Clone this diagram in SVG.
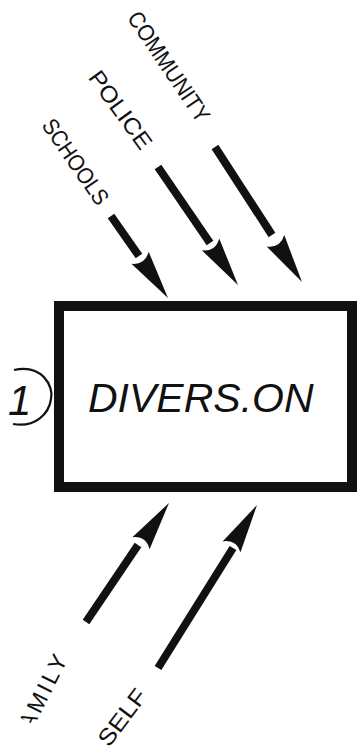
<svg xmlns="http://www.w3.org/2000/svg" xmlns:xlink="http://www.w3.org/1999/xlink" width="358" height="754" viewBox="0 0 358 754">
  <style>
    .lbl { font-family: "Liberation Sans", Arial, sans-serif; font-size: 23px; fill: #111; }
    .shaft { stroke: #111; stroke-width: 8; stroke-linecap: butt; fill: none; }
    .head { fill: #111; }
    .box { fill: #fff; stroke: #111; stroke-width: 10; }
    .title { font-family: "Liberation Sans", Arial, sans-serif; font-style: italic; font-size: 41px; fill: #111; }
  </style>
  <defs>
    <path id="head" d="M0,0 L-49,-10.5 Q-40,0 -49,10.5 Z"/>
    <clipPath id="famclip" clipPathUnits="userSpaceOnUse">
      <rect x="23" y="-40" width="200" height="80"/>
    </clipPath>
  </defs>
  <rect x="0" y="0" width="358" height="754" fill="#fff"/>

  <g id="node-diversion">
    <rect class="box" x="59" y="306" width="293" height="181"/>
    <text class="title" x="88" y="412">DIVERS.ON</text>
  </g>

  <g id="node-number">
    <text x="8" y="415" font-family="Liberation Sans, Arial, sans-serif" font-style="italic" font-size="42" fill="#111">1</text>
    <path d="M14,370 C42,364 54,386 51,399 C49,414 35,428 13,424" fill="none" stroke="#111" stroke-width="2.2"/>
  </g>

  <g id="label-community"><text class="lbl" textLength="128" lengthAdjust="spacingAndGlyphs" transform="translate(126.5,18) rotate(56)">COMMUNITY</text></g>
  <g id="label-police"><text class="lbl" textLength="91" lengthAdjust="spacingAndGlyphs" transform="translate(87.4,77.5) rotate(54.2)">POLICE</text></g>
  <g id="label-schools"><text class="lbl" textLength="99" lengthAdjust="spacingAndGlyphs" transform="translate(41,125.5) rotate(55.4)">SCHOOLS</text></g>
  <g id="label-family"><g transform="translate(24.2,745.7) rotate(-63)"><text class="lbl" font-size="22" letter-spacing="3.3" clip-path="url(#famclip)">FAMILY</text></g></g>
  <g id="label-self"><text class="lbl" font-size="22" textLength="65" lengthAdjust="spacingAndGlyphs" transform="translate(109,748) rotate(-53)">SELF</text></g>

  <g id="connectors">
    <line class="shaft" x1="111" y1="216" x2="139" y2="256"/>
    <use xlink:href="#head" class="head" transform="translate(168,298) rotate(55.2)"/>
    <line class="shaft" x1="158" y1="167" x2="210" y2="243"/>
    <use xlink:href="#head" class="head" transform="translate(238,285) rotate(55.9)"/>
    <line class="shaft" x1="215" y1="147" x2="272" y2="235"/>
    <use xlink:href="#head" class="head" transform="translate(302,282) rotate(57.2)"/>
    <line class="shaft" x1="86" y1="622" x2="138" y2="545"/>
    <use xlink:href="#head" class="head" transform="translate(169,503) rotate(-55.1)"/>
    <line class="shaft" x1="158" y1="668" x2="233" y2="548"/>
    <use xlink:href="#head" class="head" transform="translate(257,505) rotate(-58.7)"/>
  </g>
</svg>
